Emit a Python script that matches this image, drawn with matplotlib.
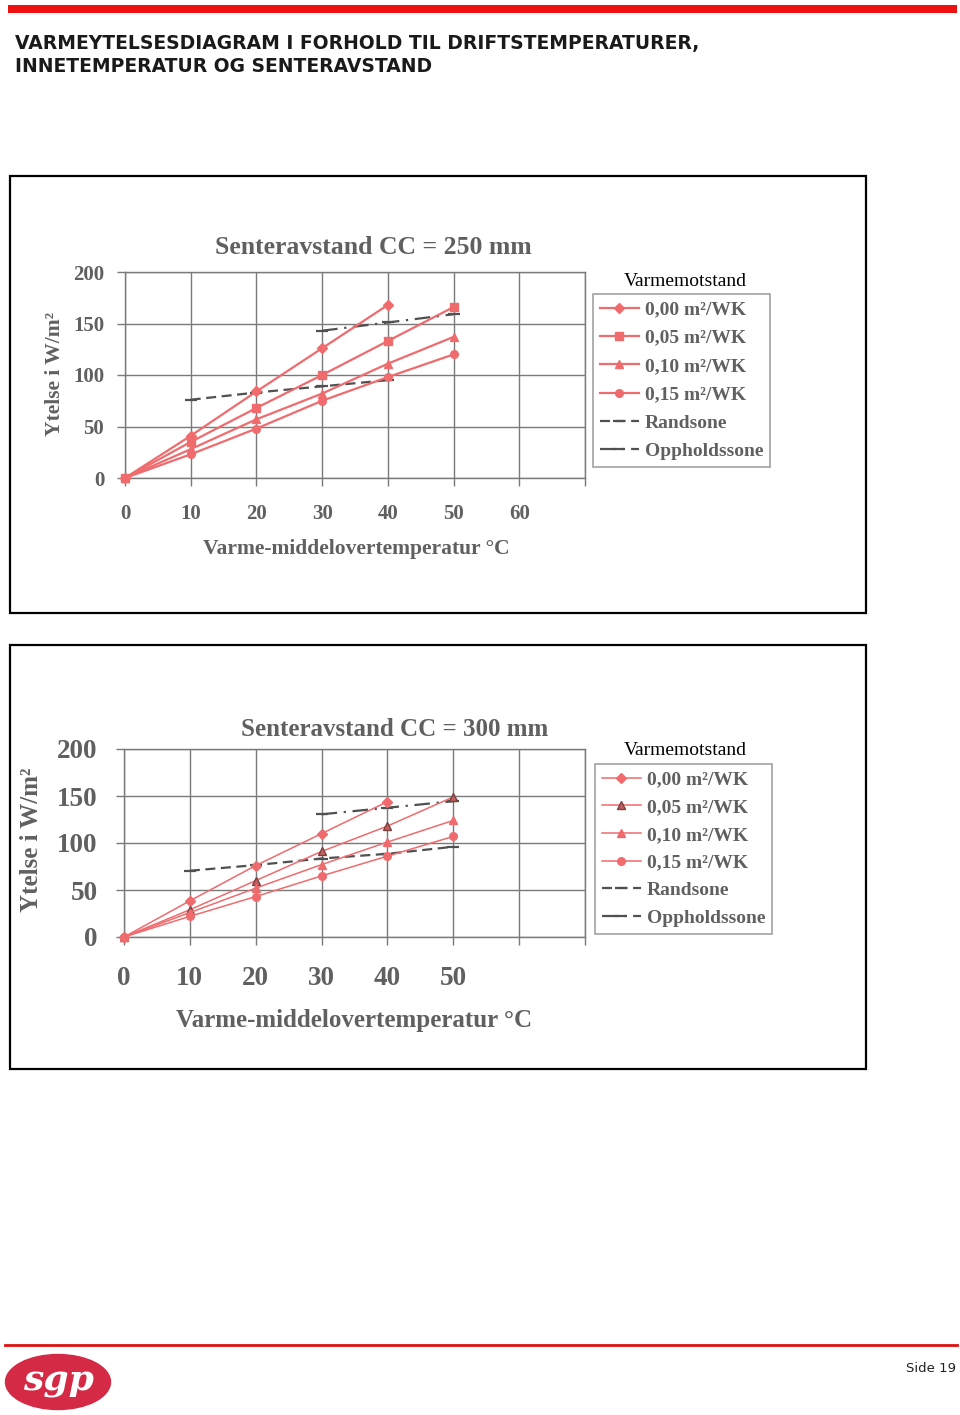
import matplotlib
matplotlib.use("Agg")
import matplotlib.pyplot as plt
from matplotlib.patches import Rectangle, Ellipse
from matplotlib.lines import Line2D

# --------------------------------------------------------------
# Data
# --------------------------------------------------------------
temps = [0, 10, 20, 30, 40, 50]
series_labels = ["0,00 m²/WK", "0,05 m²/WK", "0,10 m²/WK", "0,15 m²/WK"]

# CC = 250 mm
cc250_r000 = [0, 41, 84, 126, 168]          # stops at 40 °C
cc250_r005 = [0, 35, 68, 100, 133, 166]
cc250_r010 = [0, 28, 57, 82, 111, 137]
cc250_r015 = [0, 23, 48, 75, 98, 120]
cc250_rand_x = [10, 20, 30, 40]
cc250_rand = [76, 83, 89, 95]
cc250_opph_x = [30, 40, 50]
cc250_opph = [143, 151, 159]

# CC = 300 mm
cc300_r000 = [0, 38.5, 76, 110, 144]        # stops at 40 °C
cc300_r005 = [0, 29, 60, 91, 118, 149]
cc300_r010 = [0, 26, 52, 77, 101, 124]
cc300_r015 = [0, 22, 43, 65, 86, 107]
cc300_rand_x = [10, 20, 30, 40, 50]
cc300_rand = [70.5, 76.5, 83.5, 88.5, 96]
cc300_opph_x = [30, 40, 50]
cc300_opph = [130.5, 137.5, 144.5]

W, H = 960, 1415
RED_LINE = "#EF6B6E"
DARK = "#505050"
GREY_TXT = "#606060"
GRID = "#7a7a7a"
SERIF = ["Liberation Serif", "DejaVu Serif"]


def fx(px):
    return px / W


def fy(py):
    return 1 - py / H


def draw_chart(fig, box, axpx, cfg):
    """box = (x0, y0, x1, y1) page pixels of the frame; axpx = plot area pixels."""
    x0, y0, x1, y1 = box
    fig.patches.append(Rectangle((fx(x0), fy(y1)), fx(x1) - fx(x0), fy(y0) - fy(y1),
                                 transform=fig.transFigure, fill=False,
                                 edgecolor="black", linewidth=1.6))

    ax0, ay0, ax1, ay1 = axpx
    ax = fig.add_axes([fx(ax0), fy(ay1), fx(ax1) - fx(ax0), fy(ay0) - fy(ay1)])

    lw = cfg["lw"]
    ms = cfg["ms"]
    handles = []
    for vals, mk, mfc, mec, lab in zip(cfg["series"], cfg["markers"], cfg["mfc"], cfg["mec"], series_labels):
        h, = ax.plot(temps[:len(vals)], vals, color=RED_LINE, lw=lw, marker=mk,
                     markersize=ms, markerfacecolor=mfc, markeredgecolor=mec,
                     clip_on=False, zorder=3, label=lab)
        handles.append(h)

    h, = ax.plot(cfg["rand_x"], cfg["rand"], color=DARK, lw=1.6, ls=(0, (4.5, 2.5)),
                 marker="_", markersize=8, markeredgewidth=1.6, zorder=2, label="Randsone")
    handles.append(h)
    h, = ax.plot(cfg["opph_x"], cfg["opph"], color=DARK, lw=1.6, ls=(0, (7, 3, 1, 3)),
                 marker="_", markersize=8, markeredgewidth=1.6, zorder=2, label="Oppholdssone")
    handles.append(h)

    ax.set_xlim(0, 70)
    ax.set_ylim(0, 200)
    ax.set_xticks(range(0, 71, 10))
    ax.set_xticklabels(cfg["xticklabels"])
    ax.set_yticks(range(0, 201, 50))
    ax.grid(True, color=GRID, lw=1)
    ax.set_axisbelow(True)
    for sp in ax.spines.values():
        sp.set_color(GRID)
        sp.set_linewidth(1)
    ax.tick_params(axis="both", direction="out", length=6, width=1, color=GRID,
                   labelcolor=GREY_TXT, labelsize=cfg["ticksize"])
    ax.tick_params(axis="x", pad=cfg["xpad"])
    ax.tick_params(axis="y", pad=cfg["ypad"])
    for t in ax.get_xticklabels() + ax.get_yticklabels():
        t.set_fontfamily(SERIF)
        t.set_fontweight("bold")

    # titles and axis labels
    tx, ty = cfg["title_pos"]
    fig.text(fx(tx), fy(ty), cfg["title"], ha="center", va="center", family=SERIF,
             weight="bold", color=GREY_TXT, fontsize=cfg["title_size"])
    lx, ly = cfg["xlabel_pos"]
    fig.text(fx(lx), fy(ly), "Varme-middelovertemperatur °C", ha="center", va="center",
             family=SERIF, weight="bold", color=GREY_TXT, fontsize=cfg["label_size"])
    yx, yy = cfg["ylabel_pos"]
    fig.text(fx(yx), fy(yy), "Ytelse i W/m²", ha="center", va="center", rotation=90,
             family=SERIF, weight="bold", color=GREY_TXT, fontsize=cfg["ylabel_size"])

    # legend
    gx, gy = cfg["legtitle_pos"]
    fig.text(fx(gx), fy(gy), "Varmemotstand", ha="left", va="center", family=SERIF,
             color="black", fontsize=14)
    bx, by = cfg["legend_anchor"]
    leg = fig.legend(handles=handles, loc="upper left", bbox_to_anchor=(fx(bx), fy(by)),
                     bbox_transform=fig.transFigure, frameon=True, fancybox=False,
                     edgecolor="#8a8a8a", borderaxespad=0, borderpad=0.35,
                     handlelength=2.0, handletextpad=0.3, labelspacing=cfg["labelspacing"],
                     prop={"family": SERIF, "weight": "bold", "size": 14})
    leg.get_frame().set_linewidth(1.2)
    for t in leg.get_texts():
        t.set_color(GREY_TXT)
    return ax


fig = plt.figure(figsize=(W / 100, H / 100), dpi=100)

# --- page header ---
fig.patches.append(Rectangle((fx(8), fy(13)), fx(957) - fx(8), fy(5) - fy(13),
                             transform=fig.transFigure, color="#EE1111", lw=0))
fig.text(fx(15), fy(44), "VARMEYTELSESDIAGRAM I FORHOLD TIL DRIFTSTEMPERATURER,",
         ha="left", va="center", family="DejaVu Sans", weight="bold", fontsize=13.5, color="#1a1a1a")
fig.text(fx(15), fy(66), "INNETEMPERATUR OG SENTERAVSTAND",
         ha="left", va="center", family="DejaVu Sans", weight="bold", fontsize=13.5, color="#1a1a1a")

# --- chart 1: CC = 250 mm ---
draw_chart(fig, (10, 176, 866, 613), (125, 272, 585, 478), {
    "series": [cc250_r000, cc250_r005, cc250_r010, cc250_r015],
    "markers": ["D", "s", "^", "o"],
    "mfc": [RED_LINE] * 4,
    "mec": [RED_LINE] * 4,
    "lw": 1.6, "ms": 5.5,
    "rand_x": cc250_rand_x, "rand": cc250_rand,
    "opph_x": cc250_opph_x, "opph": cc250_opph,
    "xticklabels": ["0", "10", "20", "30", "40", "50", "60", ""],
    "ticksize": 15, "xpad": 13, "ypad": 9,
    "title": "Senteravstand CC = 250 mm", "title_pos": (373, 248), "title_size": 18.5,
    "xlabel_pos": (356, 549), "label_size": 15.5,
    "ylabel_pos": (55, 374), "ylabel_size": 15.5,
    "legtitle_pos": (624, 281), "legend_anchor": (593, 294), "labelspacing": 0.55,
})

# --- chart 2: CC = 300 mm ---
draw_chart(fig, (10, 645, 866, 1069), (124, 749, 585, 937), {
    "series": [cc300_r000, cc300_r005, cc300_r010, cc300_r015],
    "markers": ["D", "^", "^", "o"],
    "mfc": [RED_LINE, "#C46060", RED_LINE, RED_LINE],
    "mec": [RED_LINE, "#7a4040", RED_LINE, RED_LINE],
    "lw": 1.1, "ms": 5.5,
    "rand_x": cc300_rand_x, "rand": cc300_rand,
    "opph_x": cc300_opph_x, "opph": cc300_opph,
    "xticklabels": ["0", "10", "20", "30", "40", "50", "", ""],
    "ticksize": 19.5, "xpad": 15, "ypad": 13,
    "title": "Senteravstand CC = 300 mm", "title_pos": (395, 729), "title_size": 18,
    "xlabel_pos": (354, 1020), "label_size": 18,
    "ylabel_pos": (32, 840), "ylabel_size": 18,
    "legtitle_pos": (624, 751), "legend_anchor": (595, 764), "labelspacing": 0.52,
})

# --- footer ---
fig.add_artist(Line2D([fx(5), fx(957)], [fy(1345), fy(1345)], transform=fig.transFigure,
                      color="#E01010", lw=2))
fig.patches.append(Ellipse((fx(58), fy(1382)), fx(105), 55 / H, transform=fig.transFigure,
                           facecolor="#D42A45", edgecolor="#D42A45"))
fig.text(fx(58), fy(1381), "sgp", ha="center", va="center", family="DejaVu Serif",
         style="italic", weight="bold", fontsize=26, color="white")
fig.text(fx(956), fy(1369), "Side 19", ha="right", va="center", family="DejaVu Sans",
         fontsize=9.5, color="#222222")

fig.savefig("out.png", dpi=100)
